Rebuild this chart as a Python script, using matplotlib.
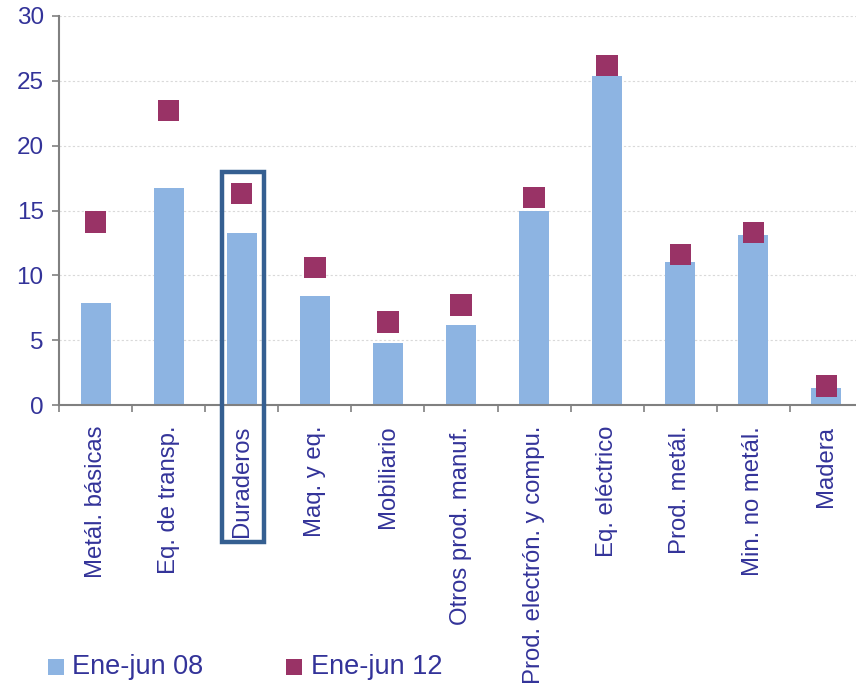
import matplotlib
matplotlib.use("Agg")
import matplotlib.pyplot as plt
from matplotlib.patches import Rectangle

categories = ["Metál. básicas", "Eq. de transp.", "Duraderos", "Maq. y eq.", "Mobiliario",
              "Otros prod. manuf.", "Prod. electrón. y compu.", "Eq. eléctrico",
              "Prod. metál.", "Min. no metál.", "Madera"]
ene_jun_08 = [7.85, 16.7, 13.25, 8.4, 4.75, 6.15, 14.95, 25.4, 11.0, 13.1, 1.3]
ene_jun_12 = [14.1, 22.7, 16.3, 10.6, 6.4, 7.7, 16.0, 26.2, 11.6, 13.3, 1.45]
series_names = ["Ene-jun 08", "Ene-jun 12"]
yticks = [0, 5, 10, 15, 20, 25, 30]

txt = "#333399"
bar_c = "#8DB4E2"
mk_c = "#993366"
W, H = 856, 686

fig = plt.figure(figsize=(W/100, H/100), dpi=100)
ax = fig.add_axes([59/W, 1-405/H, 804/W, 389/H])
x = list(range(len(categories)))
ax.bar(x, ene_jun_08, width=0.41, color=bar_c, zorder=2)
ax.scatter(x, ene_jun_12, marker="s", s=15.5**2, color=mk_c, zorder=3, edgecolors="none")
ax.set_xlim(-0.5, len(categories) - 0.5)
ax.set_ylim(0, 30)
ax.set_yticks(yticks)
ax.set_yticklabels([str(v) for v in yticks], color=txt, fontsize=17.5, family="Liberation Sans")
ax.yaxis.grid(True, color="#d9d9d9", linestyle=(0, (2, 2)), linewidth=0.8, zorder=0)
ax.set_xticks([i + 0.5 for i in range(-1, len(categories))], minor=False)
ax.set_xticklabels([])
ax.set_xticks(x, minor=True)
ax.set_xticklabels(categories, minor=True, rotation=90, color=txt, fontsize=17.2,
                   family="Liberation Sans", va="top")
ax.tick_params(axis="x", which="minor", length=0, pad=15)
ax.tick_params(axis="x", which="major", length=5, color="#808080", width=1.2)
ax.tick_params(axis="y", length=5, color="#808080", width=1.2, pad=6)
for s in ["top", "right"]:
    ax.spines[s].set_visible(False)
for s in ["left", "bottom"]:
    ax.spines[s].set_color("#808080")
    ax.spines[s].set_linewidth(1.5)

# highlight box around Duraderos
fig.patches.append(Rectangle((222/W, 1-542/H), 42/W, 370/H, transform=fig.transFigure,
                             fill=False, edgecolor="#355F91", linewidth=3.2, zorder=10))

# legend (manual placement)
for (mx, tx), name, col in zip([(48, 72), (286, 311)], series_names, [bar_c, mk_c]):
    fig.patches.append(Rectangle((mx/W, 1-675/H), 16/W, 16/H, transform=fig.transFigure,
                                 facecolor=col, edgecolor="none"))
    fig.text(tx/W, 1-667/H, name, color=txt, fontsize=19.5, family="Liberation Sans",
             va="center", ha="left")

fig.savefig("out.png", dpi=100)
